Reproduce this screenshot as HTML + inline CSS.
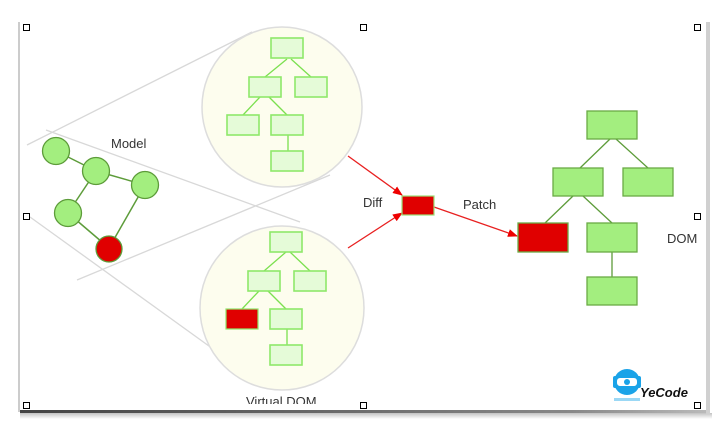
<!DOCTYPE html>
<html><head><style>
body{margin:0;width:725px;height:437px;background:#fff;overflow:hidden;font-family:"Liberation Sans",sans-serif}
</style></head><body>
<svg width="725" height="437" xmlns="http://www.w3.org/2000/svg">
<defs>
<linearGradient id="sh" x1="0" x2="1"><stop offset="0" stop-color="#444"/><stop offset="0.8" stop-color="#888"/><stop offset="1" stop-color="#bbb"/></linearGradient>
<linearGradient id="shv" x1="0" y1="0" x2="0" y2="1"><stop offset="0" stop-color="#000" stop-opacity="0.6"/><stop offset="1" stop-color="#000" stop-opacity="0"/></linearGradient>
<marker id="ar" markerWidth="10" markerHeight="8" refX="9" refY="4" orient="auto" markerUnits="userSpaceOnUse"><path d="M0,0 L10,4 L0,8 z" fill="#e00"/></marker>
</defs>
<rect x="20" y="410" width="690" height="3" fill="url(#sh)"/>
<rect x="20" y="413" width="692" height="6" fill="url(#shv)" opacity="0.4"/>
<rect x="18" y="22" width="2" height="390" fill="#ccc"/>
<rect x="706" y="22" width="4" height="392" fill="#d0d0d0"/>
<rect x="20" y="21" width="686" height="389" fill="#fff"/>
<g stroke="#d8d8d8" stroke-width="1.3" fill="none">
<line x1="27" y1="145" x2="252" y2="32"/>
<line x1="46" y1="130" x2="300" y2="222"/>
<line x1="30" y1="217" x2="245" y2="372"/>
<line x1="77" y1="280" x2="330" y2="175"/>
</g>
<circle cx="282" cy="107" r="80" fill="#fdfdee" stroke="#ddd" stroke-width="1.5"/>
<circle cx="282" cy="308" r="82" fill="#fdfdee" stroke="#ddd" stroke-width="1.5"/>
<g stroke="#7be04f" stroke-width="1.3">
<line x1="287" y1="59" x2="265" y2="77"/><line x1="291" y1="59" x2="311" y2="77"/>
<line x1="260" y1="97" x2="243" y2="115"/><line x1="269" y1="97" x2="287" y2="115"/>
<line x1="288" y1="135" x2="288" y2="151"/>
<line x1="286" y1="252" x2="264" y2="271"/><line x1="290" y1="252" x2="310" y2="271"/>
<line x1="259" y1="291" x2="242" y2="309"/><line x1="268" y1="291" x2="286" y2="309"/>
<line x1="287" y1="329" x2="287" y2="345"/>
</g>
<g fill="#e5fbd8" stroke="#8ee86a" stroke-width="1.6">
<rect x="271" y="38" width="32" height="20"/><rect x="249" y="77" width="32" height="20"/><rect x="295" y="77" width="32" height="20"/>
<rect x="227" y="115" width="32" height="20"/><rect x="271" y="115" width="32" height="20"/><rect x="271" y="151" width="32" height="20"/>
<rect x="270" y="232" width="32" height="20"/><rect x="248" y="271" width="32" height="20"/><rect x="294" y="271" width="32" height="20"/>
<rect x="270" y="309" width="32" height="20"/><rect x="270" y="345" width="32" height="20"/>
</g>
<rect x="226" y="309" width="32" height="20" fill="#e00000" stroke="#8ee86a" stroke-width="1.2"/>
<g stroke="#5d9c3a" stroke-width="1.5">
<line x1="56" y1="151" x2="96" y2="171"/><line x1="96" y1="171" x2="145" y2="185"/>
<line x1="96" y1="171" x2="68" y2="213"/><line x1="145" y1="185" x2="109" y2="248"/>
<line x1="68" y1="213" x2="109" y2="248"/>
</g>
<g fill="#a3ee7f" stroke="#5d9c3a" stroke-width="1.3">
<circle cx="56" cy="151" r="13.5"/><circle cx="96" cy="171" r="13.5"/><circle cx="145" cy="185" r="13.5"/><circle cx="68" cy="213" r="13.5"/>
</g>
<circle cx="109" cy="249" r="13" fill="#e00000" stroke="#5d9c3a" stroke-width="1.3"/>
<g stroke="#e82020" stroke-width="1.3">
<line x1="348" y1="156" x2="402" y2="195" marker-end="url(#ar)"/>
<line x1="348" y1="248" x2="402" y2="213" marker-end="url(#ar)"/>
<line x1="434" y1="207" x2="517" y2="236" marker-end="url(#ar)"/>
</g>
<rect x="402" y="196" width="32" height="19" fill="#e00000" stroke="#9be27a" stroke-width="1.2"/>
<g stroke="#5d9c3a" stroke-width="1.3">
<line x1="610" y1="139" x2="580" y2="168"/><line x1="616" y1="139" x2="648" y2="168"/>
<line x1="573" y1="196" x2="545" y2="223"/><line x1="583" y1="196" x2="612" y2="223"/>
<line x1="612" y1="252" x2="612" y2="277"/>
</g>
<g fill="#a3ee7f" stroke="#6aab45" stroke-width="1.3">
<rect x="587" y="111" width="50" height="28"/><rect x="553" y="168" width="50" height="28"/><rect x="623" y="168" width="50" height="28"/>
<rect x="587" y="223" width="50" height="29"/><rect x="587" y="277" width="50" height="28"/>
</g>
<rect x="518" y="223" width="50" height="29" fill="#e00000" stroke="#6aab45" stroke-width="1.3"/>
<g font-size="13" fill="#333">
<text x="111" y="148">Model</text>
<text x="363" y="207">Diff</text>
<text x="463" y="209">Patch</text>
<text x="667" y="243">DOM</text>
<text x="246" y="406">Virtual DOM</text>
</g>
<rect x="20" y="404" width="686" height="6" fill="#fff"/>
<g>
<circle cx="627" cy="382" r="13" fill="#1aa3e8"/>
<rect x="613" y="376" width="5" height="12" rx="2" fill="#1aa3e8"/>
<rect x="636" y="376" width="5" height="12" rx="2" fill="#1aa3e8"/>
<rect x="617" y="378" width="20" height="8" rx="3" fill="#fff"/>
<circle cx="627" cy="382" r="3" fill="#1aa3e8"/>
<rect x="614" y="398" width="26" height="3" fill="#9bd8f5"/>
<text x="640" y="397" font-size="13" font-weight="bold" font-style="italic" fill="#111">YeCode</text>
</g>
<g fill="#fff" stroke="#000" stroke-width="1">
<rect x="23.5" y="24.5" width="6" height="6"/><rect x="360.5" y="24.5" width="6" height="6"/><rect x="694.5" y="24.5" width="6" height="6"/>
<rect x="23.5" y="213.5" width="6" height="6"/><rect x="694.5" y="213.5" width="6" height="6"/>
<rect x="23.5" y="402.5" width="6" height="6"/><rect x="360.5" y="402.5" width="6" height="6"/><rect x="694.5" y="402.5" width="6" height="6"/>
</g>
</svg>
</body></html>
